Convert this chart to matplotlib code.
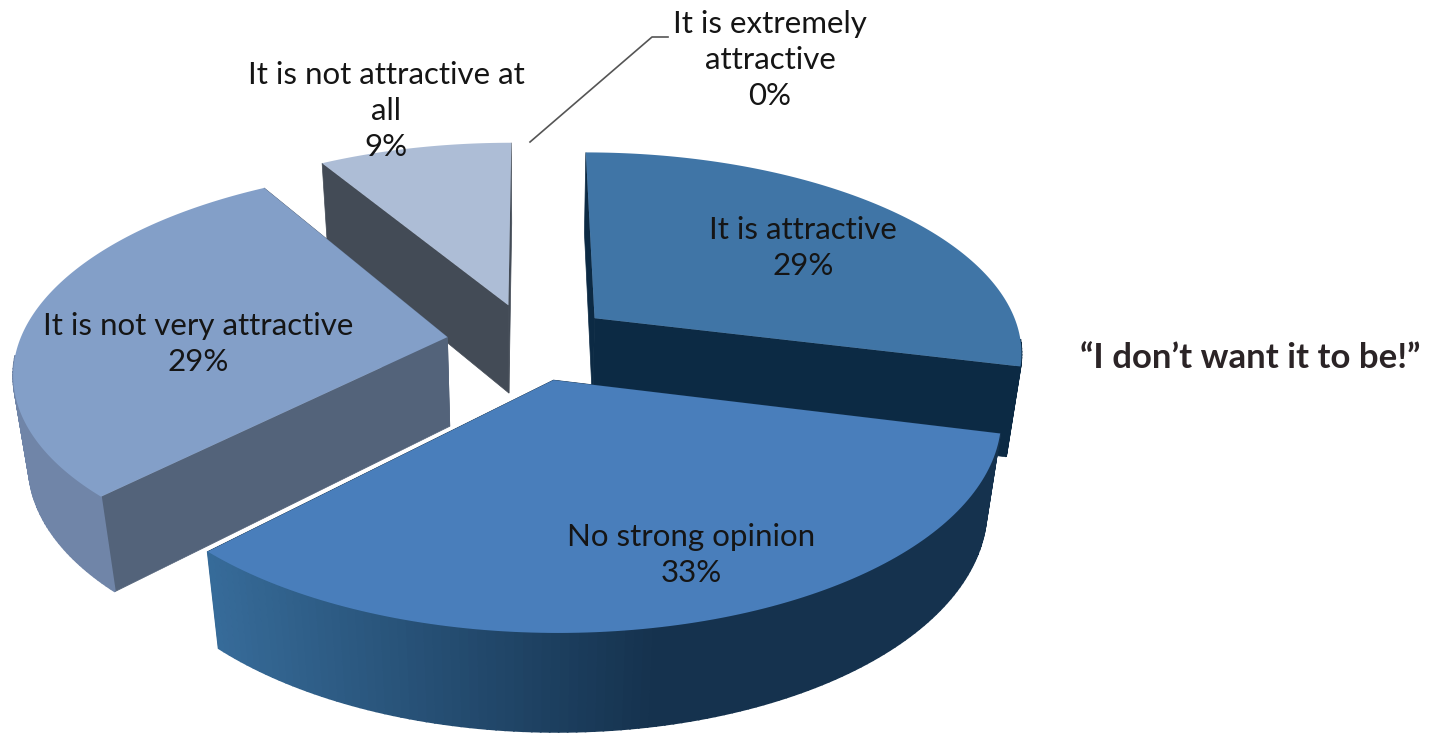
import numpy as np
import matplotlib
matplotlib.use('Agg')
import matplotlib.pyplot as plt
from matplotlib.colors import to_rgb

plt.rcParams['font.family'] = ['Lato', 'DejaVu Sans']

categories = ['It is extremely\nattractive', 'It is attractive', 'No strong opinion',
              'It is not very attractive', 'It is not attractive at\nall']
values = [0, 28.9, 33.4, 29.1, 8.6]
top_colors = ['#A0B0D0', '#4075A6', '#497EBB', '#839FC8', '#ADBDD6']
face_colors = ['#404A55', '#0C2A44', '#15324E', '#53637A', '#434B56']
rim_left = ['#404A55', '#0C2A44', '#376C9A', '#7085A8', '#434B56']
rim_right = ['#404A55', '#0C2A44', '#15324E', '#6F83A5', '#434B56']
label_pos = [(770, 60), (803, 248), (691, 555), (198, 344), (386, 111)]
draw_order = [4, 1, 3, 2]

# camera settings, worked out from the slice corners
cx, cy = 530, 341.6
A, B, H = 428, 199, 92
k, m = 0.159, 0.03
explode = 0.195


def project(u, v, z=0.0):
    w = 1 + k * v + m * z
    return cx + A * u / w, cy + (H * z - B * v) / w


def draw_slice(i, a0, a1):
    mid = (a0 + a1) / 2
    ox, oy = explode * np.sin(mid), explode * np.cos(mid)
    th = np.linspace(a0, a1, 120)
    rx, ry = ox + np.sin(th), oy + np.cos(th)

    # flat side faces
    for a in (a0, a1):
        u = [ox, ox + np.sin(a), ox + np.sin(a), ox]
        v = [oy, oy + np.cos(a), oy + np.cos(a), oy]
        z = [0, 0, 1, 1]
        xs, ys = project(np.array(u), np.array(v), np.array(z))
        ax.fill(xs, ys, color=face_colors[i], lw=0.5)

    # curved rim, shaded by screen position
    c0, c1 = np.array(to_rgb(rim_left[i])), np.array(to_rgb(rim_right[i]))
    for j in range(len(th) - 1):
        if np.cos(th[j]) > -0.1:
            continue
        x0, y0 = project(rx[j], ry[j], 0)
        x1, y1 = project(rx[j + 1], ry[j + 1], 0)
        x2, y2 = project(rx[j + 1], ry[j + 1], 1)
        x3, y3 = project(rx[j], ry[j], 1)
        t = np.clip((x0 - 205) / (660 - 205), 0, 1)
        ax.fill([x0, x1, x2, x3], [y0, y1, y2, y3], color=c0 + (c1 - c0) * t, lw=1.2)

    # top
    xs, ys = project(np.r_[ox, rx], np.r_[oy, ry], 0)
    ax.fill(xs, ys, color=top_colors[i], lw=0)


fig = plt.figure(figsize=(14.29, 7.35), dpi=100)
ax = fig.add_axes([0, 0, 1, 1])
ax.set_xlim(0, 1429)
ax.set_ylim(735, 0)
ax.axis('off')

edges = 2 * np.pi * np.cumsum([0] + values) / sum(values)
for i in draw_order:
    draw_slice(i, edges[i], edges[i + 1])

# leader for the empty slice
ax.plot([530, 652, 668], [142, 37, 37], color='#555555', lw=1.2)

for cat, val, pos in zip(categories, values, label_pos):
    ax.text(pos[0], pos[1], f'{cat}\n{val:.0f}%', ha='center', va='center',
            fontsize=22.5, color='#151515', linespacing=1.33)

ax.text(1250, 358, '\u201cI don\u2019t want it to be!\u201d', ha='center', va='center',
        fontsize=25, fontweight='bold', color='#2B2426')

fig.savefig('out.png', dpi=100)
